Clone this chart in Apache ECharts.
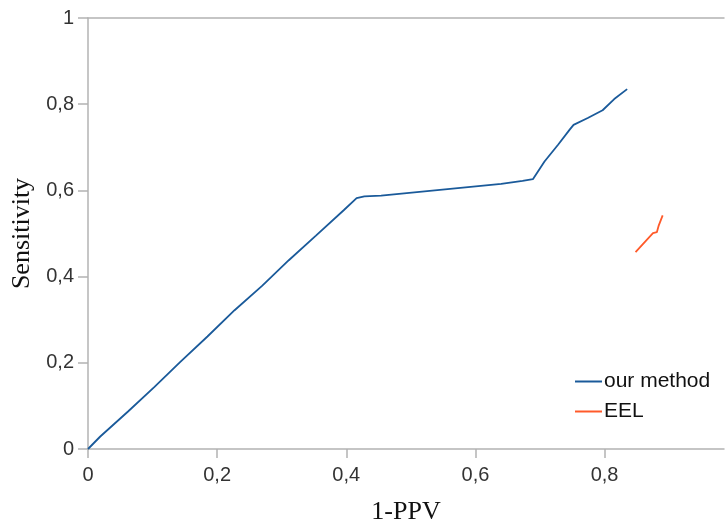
<!DOCTYPE html>
<html>
<head>
<meta charset="utf-8">
<script src="https://cdn.jsdelivr.net/npm/echarts@6/dist/echarts.min.js"></script>
<style>
  html, body { margin: 0; padding: 0; background: #fff; }
  #chart { width: 725px; height: 527px; }
</style>
</head>
<body>
<div id="chart"></div>
<script>
// values
var ourX = [0, 0.019, 0.062, 0.103, 0.143, 0.185, 0.227, 0.270, 0.311, 0.353, 0.396, 0.416, 0.428, 0.454, 0.64, 0.673, 0.689, 0.707, 0.728, 0.746, 0.752, 0.774, 0.797, 0.815, 0.835];
var ourY = [0, 0.029, 0.087, 0.144, 0.202, 0.261, 0.322, 0.379, 0.438, 0.495, 0.554, 0.582, 0.586, 0.588, 0.615, 0.622, 0.626, 0.667, 0.706, 0.741, 0.752, 0.768, 0.786, 0.812, 0.835];
var eelX = [0.848, 0.875, 0.881, 0.884, 0.890];
var eelY = [0.457, 0.501, 0.503, 0.519, 0.542];
var seriesNames = ['our method', 'EEL'];
var colors = ['#1a5a9a', '#ff5a2a'];

function pairs(xs, ys) {
  return xs.map(function (x, i) { return [x, ys[i]]; });
}
function comma(v) {
  return String(v).replace('.', ',');
}

var axisGray = '#b3b3b3';
var chart = echarts.init(document.getElementById('chart'));

chart.setOption({
  animation: false,
  color: colors,
  grid: { left: 88, right: 1, top: 18, bottom: 78, outerBoundsMode: 'none', containLabel: false },
  legend: {
    left: 570,
    top: 366,
    orient: 'vertical',
    icon: 'rect',
    itemWidth: 27,
    itemHeight: 2,
    itemGap: 9,
    data: seriesNames,
    textStyle: {
      fontFamily: 'Liberation Sans',
      fontSize: 21,
      color: '#111',
      padding: [0, 0, 0, -3]
    }
  },
  xAxis: [{
    type: 'value',
    min: 0,
    max: 0.985,
    interval: 0.2,
    name: '1-PPV',
    nameLocation: 'middle',
    nameGap: 50,
    nameTextStyle: { fontFamily: 'Liberation Serif', fontSize: 26, color: '#111' },
    axisLine: { lineStyle: { color: axisGray, width: 1.5 } },
    axisTick: { length: 9, lineStyle: { color: axisGray, width: 1.5 } },
    axisLabel: {
      margin: 16, fontFamily: 'Liberation Sans', fontSize: 20, color: '#333',
      showMaxLabel: false,
      formatter: comma
    },
    splitLine: { show: false }
  }, {
    type: 'value',
    position: 'top',
    min: 0,
    max: 0.985,
    axisLine: { show: true, onZero: false, lineStyle: { color: axisGray, width: 1.5 } },
    axisTick: { show: false },
    axisLabel: { show: false },
    splitLine: { show: false }
  }],
  yAxis: {
    type: 'value',
    min: 0,
    max: 1,
    interval: 0.2,
    name: 'Sensitivity',
    nameLocation: 'middle',
    nameGap: 52,
    nameTextStyle: { fontFamily: 'Liberation Serif', fontSize: 26, color: '#111' },
    axisLine: { show: true, lineStyle: { color: axisGray, width: 1.5 } },
    axisTick: { show: true, length: 10, lineStyle: { color: axisGray, width: 1.5 } },
    axisLabel: {
      margin: 14, fontFamily: 'Liberation Sans', fontSize: 20, color: '#333',
      formatter: comma
    },
    splitLine: { show: false }
  },
  series: [{
    name: seriesNames[0],
    type: 'line',
    data: pairs(ourX, ourY),
    showSymbol: false,
    lineStyle: { width: 1.8, color: colors[0] }
  }, {
    name: seriesNames[1],
    type: 'line',
    data: pairs(eelX, eelY),
    showSymbol: false,
    lineStyle: { width: 1.8, color: colors[1] }
  }]
});
</script>
</body>
</html>
